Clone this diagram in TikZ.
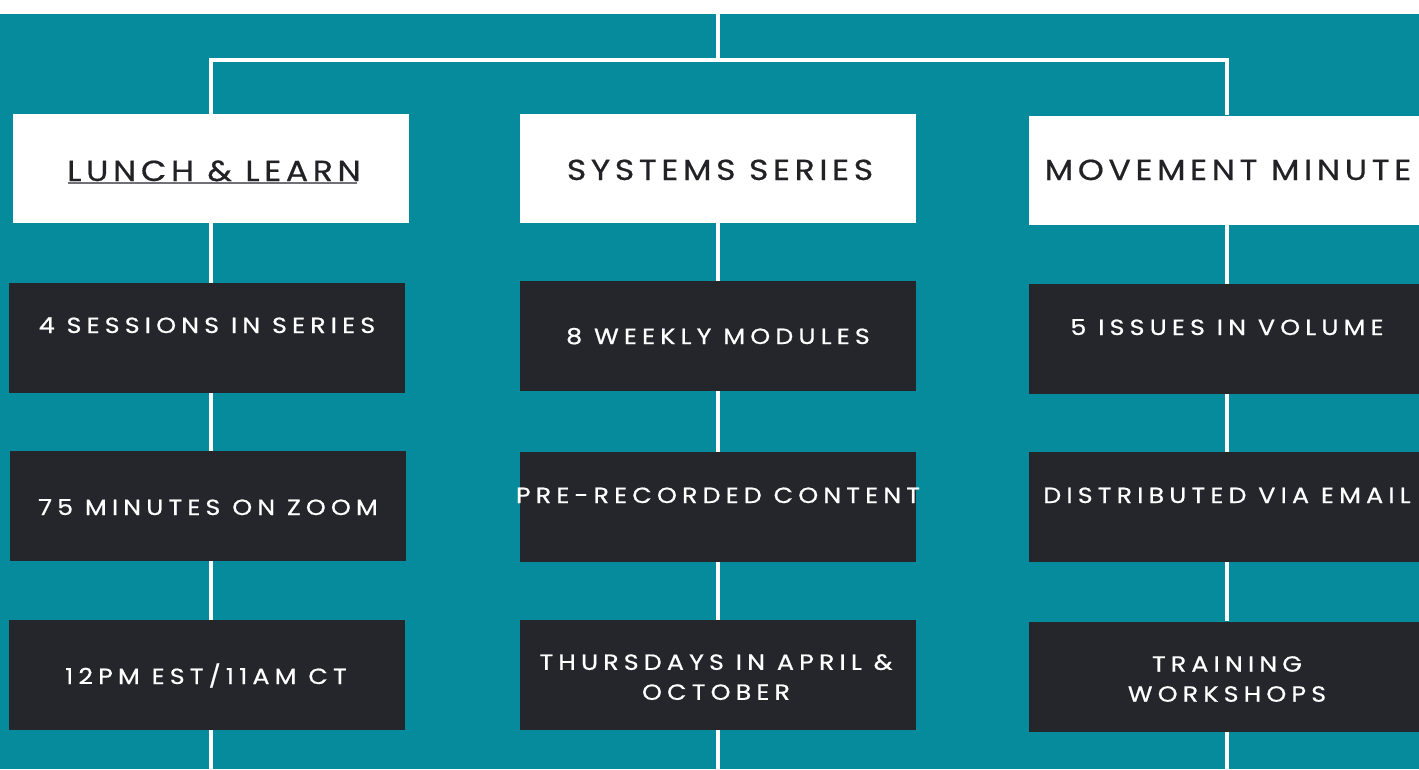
\documentclass[tikz,border=0pt]{standalone}
\usepackage{fontspec}
\newfontfamily\headfont{Poppins}[LetterSpace=16, FakeBold=0.6, FakeStretch=1.14]
\newfontfamily\itemfont{Poppins}[LetterSpace=23.5, FakeBold=0.7, FakeStretch=1.15]
\definecolor{teal}{RGB}{5,139,156}
\definecolor{boxdark}{RGB}{37,38,43}
\definecolor{inkdark}{RGB}{34,34,38}
\definecolor{rulegray}{RGB}{112,112,118}
\tikzset{
  link/.style={draw=white, line width=3.5pt},
  headbox/.style={fill=white, minimum width=396pt, minimum height=109pt, inner sep=0pt},
  itembox/.style={fill=boxdark, minimum width=396pt, minimum height=110pt, inner sep=0pt},
  headtxt/.style={text=inkdark, inner sep=0pt, anchor=base, font=\headfont\fontsize{29}{32}\selectfont},
  itemtxt/.style={text=white, inner sep=0pt, anchor=base, align=center, font=\itemfont\fontsize{22}{30}\selectfont},
}
\begin{document}
\begin{tikzpicture}[x=1pt,y=-1pt]
\useasboundingbox (0,0) rectangle (1419,769);
\begin{scope}
\clip (0,0) rectangle (1419,769);
% page background
\fill[white] (0,0) rectangle (1419,14);
\fill[teal] (0,14) rectangle (1419,769);

% column heads
\node[headbox] (l0) at (211,168.5) {};
\node[headbox] (s0) at (717.5,168.5) {};
\node[headbox] (m0) at (1227,170) {};

% item boxes
\node[itembox] (l1) at (207,338) {};
\node[itembox] (l2) at (207.5,506) {};
\node[itembox] (l3) at (207,675) {};
\node[itembox] (s1) at (717.5,336) {};
\node[itembox] (s2) at (718,507) {};
\node[itembox] (s3) at (717.5,675) {};
\node[itembox] (m1) at (1227,339) {};
\node[itembox] (m2) at (1227,507) {};
\node[itembox] (m3) at (1227,676.5) {};

% tree junctions
\coordinate (top) at (718,14);
\coordinate (j) at (718,60);
\coordinate (lend) at (211,769);
\coordinate (send) at (718,769);
\coordinate (mend) at (1227,769);

% connectors
\draw[link] (top) -- (j);
\draw[link] (l0.north -| 211,0) |- (j) -| (m0.north);
\draw[link] (l0.south -| 211,0) -- (l1.north -| 211,0);
\draw[link] (l1.south -| 211,0) -- (l2.north -| 211,0);
\draw[link] (l2.south -| 211,0) -- (l3.north -| 211,0);
\draw[link] (l3.south -| 211,0) -- (lend);
\draw[link] (s0.south -| 718,0) -- (s1.north -| 718,0);
\draw[link] (s1.south -| 718,0) -- (s2.north -| 718,0);
\draw[link] (s2.south -| 718,0) -- (s3.north -| 718,0);
\draw[link] (s3.south -| 718,0) -- (send);
\draw[link] (m0) -- (m1);
\draw[link] (m1) -- (m2);
\draw[link] (m2) -- (m3);
\draw[link] (m3.south) -- (mend);

% labels
\node[headtxt] (l0t) at (214,181) {LUNCH \& LEARN};
\draw[rulegray, line width=2.5pt] ([yshift=-2pt,xshift=1pt]l0t.base west) -- ([yshift=-2pt,xshift=-4pt]l0t.base east);
\node[headtxt] (s0t) at (720,180) {SYSTEMS SERIES};
\node[headtxt] (m0t) at (1228,180) {MOVEMENT MINUTE};

\node[itemtxt] (l1t) at (207,333) {4 SESSIONS IN SERIES};
\node[itemtxt] (l2t) at (208,515) {75 MINUTES ON ZOOM};
\node[itemtxt] (l3t) at (206,684) {12PM EST/11AM CT};

\node[itemtxt] (s1t) at (718,344) {8 WEEKLY MODULES};
\node[itemtxt] (s2t) at (718,503) {PRE-RECORDED CONTENT};
\node[itemtxt, anchor=north] (s3t) at (716,654) {THURSDAYS IN APRIL \&\\OCTOBER};

\node[itemtxt] (m1t) at (1227,335) {5 ISSUES IN VOLUME};
\node[itemtxt] (m2t) at (1227,503) {DISTRIBUTED VIA EMAIL};
\node[itemtxt, anchor=north] (m3t) at (1227,656) {TRAINING\\WORKSHOPS};
\end{scope}
\end{tikzpicture}
\end{document}
